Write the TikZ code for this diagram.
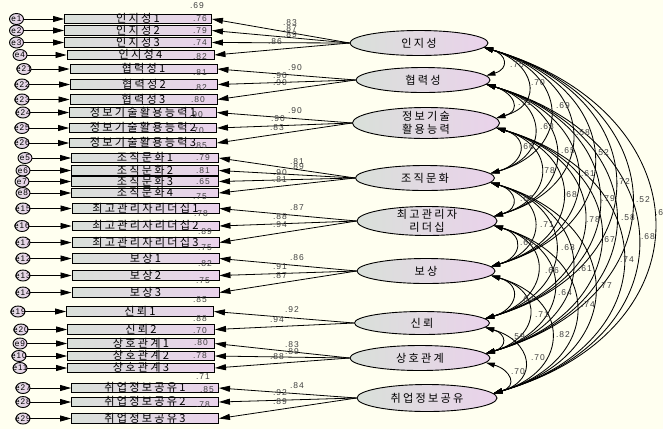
\documentclass[tikz,border=0pt]{standalone}
\usepackage{fontspec}
\usetikzlibrary{shapes.geometric,arrows.meta}
\newfontfamily\kr{Noto Sans CJK KR}[LetterSpace=20]
\newfontfamily\num{Liberation Sans}[LetterSpace=12]
\definecolor{bg}{HTML}{FFFFF0}
\definecolor{lc}{HTML}{D9E0D9}
\definecolor{rc}{HTML}{EAD2EB}
\definecolor{numc}{HTML}{404040}
\begin{document}
\begin{tikzpicture}[x=1bp,y=-1bp,
 ind/.style={draw, line width=0.9bp, rectangle, minimum width=147bp, minimum height=9.5bp, inner sep=0pt, text height=8.3bp, text depth=1.2bp, left color=lc, right color=rc, font=\kr\fontsize{11.2}{12}\selectfont},
 lat/.style={draw, line width=0.9bp, ellipse, inner sep=0pt, left color=lc, right color=rc},
 lattext/.style={align=center, inner sep=0pt, font=\kr\fontsize{11.2}{13}\selectfont},
 err/.style={draw, line width=0.9bp, ellipse, minimum width=14bp, minimum height=11bp, inner sep=0pt, left color=lc!60!rc, right color=rc},
 errt/.style={inner sep=0pt, font=\num\fontsize{8.2}{9}\selectfont},
 val/.style={inner sep=0pt, text=numc, font=\num\fontsize{8.5}{9}\selectfont},
 tip/.style={line width=0.8bp, -{Triangle[length=11bp,width=6bp]}},
 cov/.style={line width=0.85bp, {Triangle[length=9bp,width=5bp]}-{Triangle[length=9bp,width=5bp]}},
]
\useasboundingbox (0,0) rectangle (663,429);
\fill[bg] (0,0) rectangle (663,429);

% latent factors
\node[lat, minimum width=138bp, minimum height=25bp] (f1) at (419,43) {};
\node[lat, minimum width=134bp, minimum height=25bp] (f2) at (423,80) {};
\node[lat, minimum width=147bp, minimum height=31bp] (f3) at (426,123) {};
\node[lat, minimum width=139bp, minimum height=25bp] (f4) at (425,178) {};
\node[lat, minimum width=140bp, minimum height=29bp] (f5) at (427,221) {};
\node[lat, minimum width=138bp, minimum height=25bp] (f6) at (426,271) {};
\node[lat, minimum width=135bp, minimum height=23bp] (f7) at (422,323) {};
\node[lat, minimum width=140bp, minimum height=25bp] (f8) at (420,358) {};
\node[lat, minimum width=140bp, minimum height=27bp] (f9) at (427,398) {};
\node[lattext] (t1) at (f1) {인지성};
\node[lattext] (t2) at (f2) {협력성};
\node[lattext] (t3) at (f3) {정보기술\\활용능력};
\node[lattext] (t4) at (f4) {조직문화};
\node[lattext] (t5) at (f5) {최고관리자\\리더십};
\node[lattext] (t6) at (f6) {보상};
\node[lattext] (t7) at (f7) {신뢰};
\node[lattext] (t8) at (f8) {상호관계};
\node[lattext] (t9) at (f9) {취업정보공유};

% indicators, errors, loadings
\foreach \n/\x/\y/\t/\ex/\el/\f in {
 1/138/19/인지성1/16.5/e1/1, 2/138/30.5/인지성2/16.5/e2/1, 3/138/42.5/인지성3/16.5/e3/1, 4/140.5/55/인지성4/20/e4/1,
 5/143.5/69/협력성1/24/e21/2, 6/144/84.5/협력성2/22/e22/2, 7/143.5/99.5/협력성3/22/e23/2,
 8/143/112.5/정보기술활용능력1/23/e24/3, 9/143/128/정보기술활용능력2/22/e25/3, 10/143/143/정보기술활용능력3/22/e26/3,
 11/145/158/조직문화1/25/e5/4, 12/145/170.5/조직문화2/23/e6/4, 13/145/181.5/조직문화3/22/e7/4, 14/145/193/조직문화4/23/e8/4,
 15/145.5/208.5/최고관리자리더십1/23/e15/5, 16/145.5/226/최고관리자리더십2/22/e16/5, 17/145.5/242.5/최고관리자리더십3/23/e17/5,
 18/145.5/258.5/보상1/23/e12/6, 19/145.5/275.5/보상2/23/e13/6, 20/145.5/292.5/보상3/23/e14/6,
 21/140/311.5/신뢰1/18/e19/7, 22/141/329.5/신뢰2/21/e20/7,
 23/141/343.5/상호관계1/20/e9/8, 24/141/356/상호관계2/19/e10/8, 25/141/368/상호관계3/20/e11/8,
 26/145/388/취업정보공유1/23/e27/9, 27/145/402/취업정보공유2/23/e28/9, 28/145/418.5/취업정보공유3/23/e29/9}
{
 \node[ind] (b\n) at (\x,\y) {\t};
 \node[err] (c\n) at (\ex,\y) {};
 \node[errt] (ct\n) at (c\n) {\el};
 \draw[tip] (c\n) -- (b\n);
 \draw[tip] (f\f.west) -- (b\n.east);
}

% squared multiple correlations
\foreach \x/\y/\t [count=\k] in {
 197/6/.69, 200/19/.76, 200/31/.79, 200/43/.74, 200/57/.82,
 200/73/.81, 200/88/.82, 198/100/.80,
 196/115/.90, 197/131/.70, 200/146/.85,
 203/158/.79, 203/171/.81, 203/182/.65, 200/197/.75,
 201/214/.78, 205/232/.89, 205/248/.75,
 205/264/.82, 203/281/.75, 200/300/.85,
 200/319/.88, 200/331/.70,
 201/343/.80, 200/356/.78, 203/377/.71,
 207/390/.85, 203/405/.78}
{ \node[val] (v\k) at (\x,\y) {\t}; }

% loadings
\foreach \x/\y/\t [count=\k] in {
 290/23/.83, 290/29/.87, 290/35/.89, 275/42/.86,
 295/68/.90, 280/76/.90, 280/83/.90,
 295/111/.90, 278/119/.90, 277/128/.83,
 297/162/.81, 297/167/.89, 280/173/.90, 280/180/.81,
 297/208/.87, 280/217/.88, 280/225/.94,
 297/258/.86, 280/267/.91, 280/276/.87,
 292/310/.92, 277/320/.94,
 292/345/.83, 292/352/.89, 277/357/.88,
 297/386/.84, 280/393/.92, 280/402/.89}
{ \node[val] (l\k) at (\x,\y) {\t}; }

% covariances
\def\fys{{43,80,123,178,221,271,323,358,398}}
\foreach \i in {1,...,8}{
 \pgfmathtruncatemacro\ip{\i+1}
 \foreach \j in {\ip,...,9}{
  \pgfmathsetmacro\L{\fys[\j-1]-\fys[\i-1]}
  \pgfmathsetmacro\a{0.62*\L}
  \pgfmathsetmacro\b{0.18*\L}
  \draw[cov] (f\i.-4) .. controls +(\a,\b) and +(\a,-\b) .. (f\j.4);
 }
}

\foreach \x/\y/\t [count=\k] in {
 517/65/.75, 538/83/.70, 525/103/.71, 563/106/.69, 547/127/.63, 583/133/.58,
 527/147/.66, 568/151/.65, 602/153/.52, 548/171/.78, 588/174/.61, 623/182/.72,
 527/199/.65, 570/195/.68, 608/199/.79, 643/200/.52, 662/213/.66,
 547/225/.71, 593/220/.78, 628/218/.58, 527/243/.65, 568/248/.63, 608/240/.67, 648/237/.68,
 552/271/.66, 585/269/.61, 627/260/.74, 527/300/.64, 565/293/.64, 605/286/.77,
 588/305/.74, 542/315/.71, 518/337/.59, 563/335/.82, 538/358/.70, 518/372/.70}
{ \node[val] (r\k) at (\x,\y) {\t}; }
\end{tikzpicture}
\end{document}
